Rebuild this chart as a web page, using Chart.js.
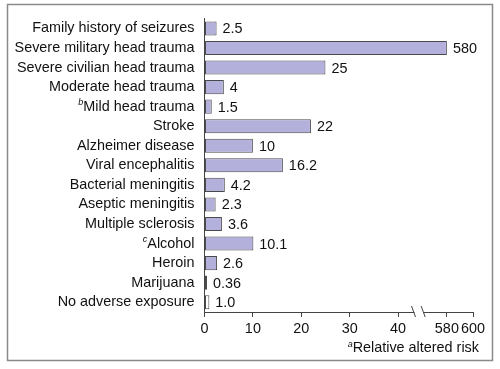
<!DOCTYPE html>
<html>
<head>
<meta charset="utf-8">
<script src="https://cdn.jsdelivr.net/npm/chart.js@4/dist/chart.umd.min.js"></script>
<style>
    body { margin: 0; background: #fff; }
</style>
</head>
<body>
<canvas id="riskChart" width="500" height="369"></canvas>
<script>
// Exposure categories (top to bottom) and their footnote markers
const categories = [
    'Family history of seizures', 'Severe military head trauma', 'Severe civilian head trauma',
    'Moderate head trauma', 'Mild head trauma', 'Stroke', 'Alzheimer disease',
    'Viral encephalitis', 'Bacterial meningitis', 'Aseptic meningitis', 'Multiple sclerosis',
    'Alcohol', 'Heroin', 'Marijuana', 'No adverse exposure'
];
const notes = ['', '', '', '', 'b', '', '', '', '', '', '', 'c', '', '', ''];

// Relative altered risk
const risk = [2.5, 580, 25, 4, 1.5, 22, 10, 16.2, 4.2, 2.3, 3.6, 10.1, 2.6, 0.36, 1.0];
const riskLabels = ['2.5', '580', '25', '4', '1.5', '22', '10', '16.2', '4.2', '2.3', '3.6', '10.1', '2.6', '0.36', '1.0'];

// Axis ticks (axis is broken between 40 and 580)
const tickValues = [0, 10, 20, 30, 40, 580, 600];

// Broken axis: values above the break are squeezed onto a short segment
function toAxis(v) {
    if (v <= 45) return v;
    return 50.1 + (v - 580) * 0.27;
}

const FONT = '"Liberation Sans", Arial, Helvetica, sans-serif';
const SIZE = 14.4;
const TEXT = '#111';

const decorations = {
    id: 'decorations',
    beforeDraw(chart) {
        const ctx = chart.ctx;
        ctx.save();
        ctx.fillStyle = '#fff';
        ctx.fillRect(0, 0, chart.width, chart.height);
        ctx.strokeStyle = '#8a8a8a';
        ctx.lineWidth = 1.5;
        ctx.strokeRect(7.5, 4.5, 485, 356);
        ctx.restore();
    },
    afterDatasetsDraw(chart) {
        const ctx = chart.ctx;
        const meta = chart.getDatasetMeta(0);
        ctx.save();
        ctx.font = SIZE + 'px ' + FONT;
        ctx.fillStyle = TEXT;
        ctx.textBaseline = 'middle';
        ctx.textAlign = 'left';
        meta.data.forEach((bar, i) => {
            ctx.fillText(riskLabels[i], bar.x + 6, bar.y + 1);
        });
        ctx.restore();
    },
    afterDraw(chart) {
        const ctx = chart.ctx;
        const x = chart.scales.x;
        const y = chart.scales.y;
        const area = chart.chartArea;
        ctx.save();

        // superscript footnote markers on category labels
        categories.forEach((name, i) => {
            if (!notes[i]) return;
            ctx.font = SIZE + 'px ' + FONT;
            const w = ctx.measureText(name).width;
            const right = area.left - 10;
            ctx.font = 'italic 9px ' + FONT;
            ctx.fillStyle = TEXT;
            ctx.textAlign = 'right';
            ctx.textBaseline = 'middle';
            ctx.fillText(notes[i], right - w, y.getPixelForValue(i) - 4);
        });

        // axis break
        const b1 = x.getPixelForValue(43.2);
        const b2 = x.getPixelForValue(45.2);
        const yb = area.bottom;
        ctx.fillStyle = '#fff';
        ctx.fillRect(b1 + 1, yb - 2, b2 - b1 - 1, 4);
        ctx.strokeStyle = '#444';
        ctx.lineWidth = 1;
        [b1, b2].forEach(bx => {
            ctx.beginPath();
            ctx.moveTo(bx - 2, yb - 6);
            ctx.lineTo(bx + 2, yb + 5);
            ctx.stroke();
        });

        // axis title with superscript
        ctx.fillStyle = TEXT;
        ctx.textBaseline = 'middle';
        ctx.textAlign = 'right';
        ctx.font = SIZE + 'px ' + FONT;
        const title = 'Relative altered risk';
        const tx = 479, ty = 348;
        ctx.fillText(title, tx, ty);
        const tw = ctx.measureText(title).width;
        ctx.font = 'italic 9px ' + FONT;
        ctx.fillText('a', tx - tw, ty - 4);
        ctx.restore();
    }
};

new Chart(document.getElementById('riskChart').getContext('2d'), {
    type: 'bar',
    data: {
        labels: categories,
        datasets: [{
            data: risk.map(toAxis),
            backgroundColor: risk.map((v, i) => i === risk.length - 1 ? '#ffffff' : '#b4b0dc'),
            borderColor: '#4a4a4a',
            borderWidth: 1,
            borderSkipped: false,
            minBarLength: 2.5,
            barPercentage: 0.72,
            categoryPercentage: 1
        }]
    },
    options: {
        indexAxis: 'y',
        responsive: false,
        animation: false,
        layout: { padding: { top: 10.5, right: 27, bottom: 0, left: 0 } },
        plugins: {
            legend: { display: false },
            tooltip: { enabled: false }
        },
        scales: {
            x: {
                type: 'linear',
                min: 0,
                max: 55.5,
                afterBuildTicks: scale => {
                    scale.ticks = tickValues.map(v => ({ value: toAxis(v) }));
                },
                afterFit: scale => { scale.height = 57; },
                ticks: {
                    autoSkip: false,
                    maxRotation: 0,
                    padding: 3,
                    color: TEXT,
                    font: { family: FONT, size: SIZE },
                    callback: (val, i) => String(tickValues[i])
                },
                grid: { drawOnChartArea: false, drawTicks: true, tickLength: 5, color: '#444' },
                border: { display: true, color: '#444', width: 1 }
            },
            y: {
                afterFit: scale => { scale.width = 204.5; },
                ticks: {
                    autoSkip: false,
                    padding: 10,
                    color: TEXT,
                    font: { family: FONT, size: SIZE }
                },
                grid: { drawOnChartArea: false, drawTicks: false },
                border: { display: true, color: '#444', width: 1 }
            }
        }
    },
    plugins: [decorations]
});
</script>
</body>
</html>
